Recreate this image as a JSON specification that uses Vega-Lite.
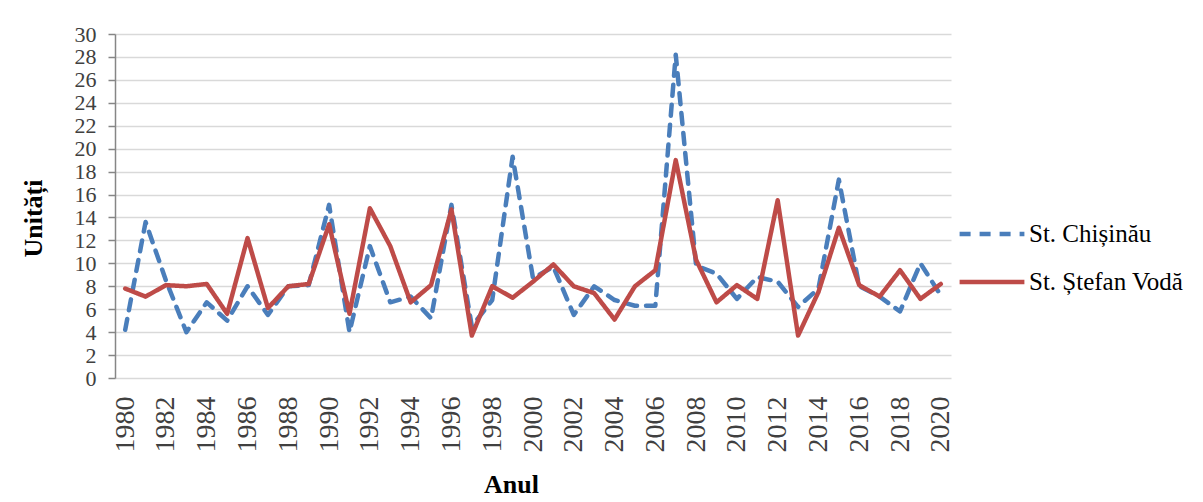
{
  "$schema": "https://vega.github.io/schema/vega-lite/v6.json",
  "width": 836,
  "height": 344,
  "autosize": {"type": "none"},
  "padding": {"left": 115, "top": 34, "right": 252, "bottom": 124},
  "background": "white",
  "config": {
    "view": {"stroke": null},
    "font": "Liberation Serif",
    "axis": {"labelFont": "Liberation Serif", "titleFont": "Liberation Serif"},
    "legend": {"labelFont": "Liberation Serif"}
  },
  "data": {"values": [
    {"year": 1980, "chis": 4.2, "stef": 7.8}, {"year": 1981, "chis": 13.6, "stef": 7.1},
    {"year": 1982, "chis": 8.5, "stef": 8.1}, {"year": 1983, "chis": 4.0, "stef": 8.0},
    {"year": 1984, "chis": 6.6, "stef": 8.2}, {"year": 1985, "chis": 5.0, "stef": 5.6},
    {"year": 1986, "chis": 8.0, "stef": 12.2}, {"year": 1987, "chis": 5.5, "stef": 6.1},
    {"year": 1988, "chis": 8.0, "stef": 8.0}, {"year": 1989, "chis": 8.1, "stef": 8.2},
    {"year": 1990, "chis": 15.1, "stef": 13.4}, {"year": 1991, "chis": 4.0, "stef": 5.6},
    {"year": 1992, "chis": 11.5, "stef": 14.8}, {"year": 1993, "chis": 6.6, "stef": 11.5},
    {"year": 1994, "chis": 7.1, "stef": 6.6}, {"year": 1995, "chis": 5.2, "stef": 8.1},
    {"year": 1996, "chis": 15.1, "stef": 14.7}, {"year": 1997, "chis": 4.5, "stef": 3.7},
    {"year": 1998, "chis": 6.8, "stef": 8.0}, {"year": 1999, "chis": 19.3, "stef": 7.0},
    {"year": 2000, "chis": 8.7, "stef": 8.4}, {"year": 2001, "chis": 9.7, "stef": 9.9},
    {"year": 2002, "chis": 5.5, "stef": 8.0}, {"year": 2003, "chis": 8.0, "stef": 7.4},
    {"year": 2004, "chis": 6.8, "stef": 5.1}, {"year": 2005, "chis": 6.3, "stef": 8.0},
    {"year": 2006, "chis": 6.3, "stef": 9.4}, {"year": 2007, "chis": 28.2, "stef": 19.0},
    {"year": 2008, "chis": 9.8, "stef": 10.3}, {"year": 2009, "chis": 9.1, "stef": 6.6},
    {"year": 2010, "chis": 6.9, "stef": 8.1}, {"year": 2011, "chis": 8.8, "stef": 6.9},
    {"year": 2012, "chis": 8.4, "stef": 15.5}, {"year": 2013, "chis": 6.2, "stef": 3.7},
    {"year": 2014, "chis": 7.8, "stef": 7.5}, {"year": 2015, "chis": 17.3, "stef": 13.1},
    {"year": 2016, "chis": 8.0, "stef": 8.1}, {"year": 2017, "chis": 7.1, "stef": 7.1},
    {"year": 2018, "chis": 5.8, "stef": 9.4}, {"year": 2019, "chis": 10.0, "stef": 6.9},
    {"year": 2020, "chis": 7.2, "stef": 8.2}
  ]},
  "transform": [
    {"fold": ["chis", "stef"], "as": ["key", "v"]},
    {"calculate": "datum.key === 'chis' ? 'St. Chișinău' : 'St. Ștefan Vodă'", "as": "series"}
  ],
  "mark": {"type": "line", "strokeWidth": 4.5, "strokeCap": "round", "strokeJoin": "round"},
  "encoding": {
    "x": {
      "field": "year", "type": "quantitative",
      "scale": {"domain": [1979.5, 2020.5], "nice": false, "zero": false},
      "axis": {
        "values": [1980, 1982, 1984, 1986, 1988, 1990, 1992, 1994, 1996, 1998, 2000, 2002, 2004, 2006, 2008, 2010, 2012, 2014, 2016, 2018, 2020],
        "format": "d", "labelAngle": -90, "labelFontSize": 28, "labelColor": "#404040",
        "labelFont": "Liberation Serif",
        "labelPadding": 18, "ticks": false, "domain": false, "grid": false,
        "labelFlush": false, "labelOverlap": false,
        "title": "Anul", "titleFontSize": 26, "titleFontWeight": "bold", "titleFont": "Liberation Serif",
        "titleColor": "#000000", "titleX": 396, "titleY": 106, "titleBaseline": "middle", "titleAlign": "center"
      }
    },
    "y": {
      "field": "v", "type": "quantitative",
      "scale": {"domain": [0, 30], "nice": false},
      "axis": {
        "values": [0, 2, 4, 6, 8, 10, 12, 14, 16, 18, 20, 22, 24, 26, 28, 30],
        "labelFontSize": 22, "labelColor": "#404040", "labelOverlap": false, "labelFont": "Liberation Serif",
        "labelPadding": 12, "tickSize": 7, "tickColor": "#868686", "domainColor": "#868686",
        "domainWidth": 1.5, "tickWidth": 1.5, "labelBaseline": "middle",
        "gridColor": "#d9d9d9", "gridWidth": 1.5, "labelFlush": false,
        "title": "Unități", "titleFontSize": 26, "titleFontWeight": "bold", "titleFont": "Liberation Serif",
        "titleColor": "#000000", "titleX": -82, "titleY": 184, "titleBaseline": "middle", "titleAlign": "center", "titleAngle": -90
      }
    },
    "color": {
      "field": "series", "type": "nominal",
      "scale": {"domain": ["St. Chișinău", "St. Ștefan Vodă"], "range": ["#4a7ebb", "#be4b48"]},
      "legend": {
        "orient": "none", "legendX": 842, "legendY": 165, "title": null,
        "symbolType": "stroke", "symbolSize": 4200, "symbolStrokeWidth": 4.5,
        "labelFontSize": 25, "labelColor": "#000000", "labelFont": "Liberation Serif",
        "rowPadding": -12, "labelOffset": 2
      }
    },
    "strokeDash": {
      "field": "series", "type": "nominal",
      "scale": {"domain": ["St. Chișinău", "St. Ștefan Vodă"], "range": [[11, 9], [1, 0]]},
      "legend": {
        "orient": "none", "legendX": 842, "legendY": 165, "title": null,
        "symbolType": "stroke", "symbolSize": 4200, "symbolStrokeWidth": 4.5,
        "labelFontSize": 25, "labelColor": "#000000", "labelFont": "Liberation Serif",
        "rowPadding": -12, "labelOffset": 2
      }
    }
  }
}
